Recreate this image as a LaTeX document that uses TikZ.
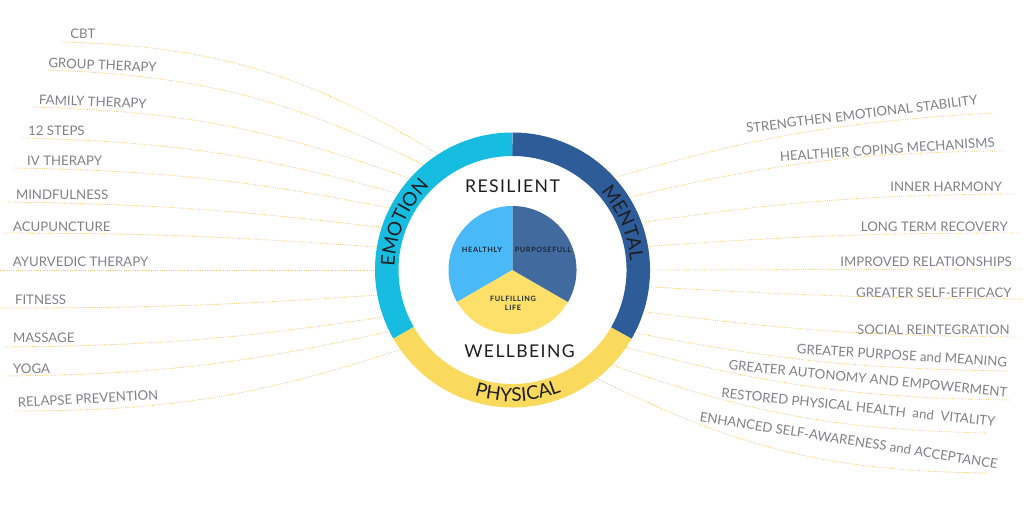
\documentclass[tikz,border=0pt]{standalone}
\usepackage{fontspec}
\setmainfont{Lato}
\usetikzlibrary{positioning,decorations.text}

\definecolor{emocol}{HTML}{17BDE0}
\definecolor{mentcol}{HTML}{2D5C98}
\definecolor{physcol}{HTML}{FADA5D}
\definecolor{piesky}{HTML}{4AB9F8}
\definecolor{pienavy}{HTML}{416B9E}
\definecolor{pieyel}{HTML}{FDE06A}
\definecolor{lblgray}{HTML}{818185}
\definecolor{linkyel}{HTML}{EFCB6C}
\definecolor{ink}{HTML}{1E1E22}
\definecolor{pieink}{HTML}{1B2738}

\newcommand\ringfont{\fontsize{13.5}{13.5}\selectfont}

\tikzset{
  lbl/.style={font=\fontsize{9.4}{11}\selectfont, text=lblgray, inner sep=0pt},
  link/.style={draw=linkyel, line width=0.6pt, densely dotted},
  ringband/.style={line width=0.5875cm},
  bigword/.style={font=\fontsize{12.5}{14}\selectfont\addfontfeatures{LetterSpace=8}, text=ink},
  pieword/.style={font=\fontsize{5.2}{6.4}\selectfont\bfseries\addfontfeatures{LetterSpace=8}, text=pieink, align=center}
}

\begin{document}
\begin{tikzpicture}[x=0.025cm, y=0.025cm]
\useasboundingbox (0,0) rectangle (1024,510);
\coordinate (c) at (512.5,240);

% outer ring
\draw[ringband, emocol] ([shift={(90:125.75)}]c) arc[start angle=90, end angle=210, radius=125.75];
\draw[ringband, physcol] ([shift={(210:125.75)}]c) arc[start angle=210, end angle=330, radius=125.75];
\draw[ringband, mentcol] ([shift={(330:125.75)}]c) arc[start angle=330, end angle=450, radius=125.75];

\path[decorate, decoration={text along path, text align=center, text color=ink, text={|\ringfont|EMOTION}}]
  ([shift={(205:118)}]c) arc[start angle=205, end angle=108, radius=118];
\path[decorate, decoration={text along path, text align=center, text color=ink, text={|\ringfont|MENTAL}}]
  ([shift={(71:118)}]c) arc[start angle=71, end angle=-25, radius=118];
\path[decorate, decoration={text along path, text align=center, text color=ink, text={|\ringfont|PHYSICAL}}]
  ([shift={(225:131.5)}]c) arc[start angle=225, end angle=320, radius=131.5];

% inner pie
\fill[piesky] (c) -- ([shift={(90:64)}]c) arc[start angle=90, end angle=210, radius=64] -- cycle;
\fill[pieyel] (c) -- ([shift={(210:64)}]c) arc[start angle=210, end angle=330, radius=64] -- cycle;
\fill[pienavy] (c) -- ([shift={(330:64)}]c) arc[start angle=330, end angle=450, radius=64] -- cycle;

\node[pieword] (healthly) at (482,260) {HEALTHLY};
\node[pieword] (purposeful) at (543,260) {PURPOSEFULL};
\node[pieword] (fulfilling) at (513,207) {FULFILLING\\LIFE};

\node[bigword] (resilient) at (512.5,324) {RESILIENT};
\node[bigword] (wellbeing) at (519.5,159) {WELLBEING};

% left side
\coordinate (cbtEnd) at (63,468);
\coordinate (groupEnd) at (48,440);
\coordinate (familyEnd) at (33,403);
\coordinate (stepsEnd) at (23,372);
\coordinate (ivEnd) at (15,342);
\coordinate (mindEnd) at (8,308);
\coordinate (acuEnd) at (3,277);
\coordinate (ayurEnd) at (0,240);
\coordinate (fitEnd) at (0,202);
\coordinate (massEnd) at (5,163);
\coordinate (yogaEnd) at (8,134);
\coordinate (relEnd) at (15,99);

\node[lbl, above right=2pt and 5pt of cbtEnd] (cbt) {CBT};
\node[lbl, above right=1.5pt and 0pt of groupEnd, rotate=-2.5] (group) {GROUP THERAPY};
\node[lbl, above right=1.5pt and 4pt of familyEnd, rotate=-2] (family) {FAMILY THERAPY};
\node[lbl, above right=1.5pt and 3.5pt of stepsEnd] (steps) {12 STEPS};
\node[lbl, above right=1.5pt and 8.5pt of ivEnd] (iv) {IV THERAPY};
\node[lbl, above right=1.5pt and 5.5pt of mindEnd] (mind) {MINDFULNESS};
\node[lbl, above right=1pt and 7pt of acuEnd] (acu) {ACUPUNCTURE};
\node[lbl, above right=2pt and 9pt of ayurEnd] (ayur) {AYURVEDIC THERAPY};
\node[lbl, above right=2.5pt and 10.5pt of fitEnd] (fit) {FITNESS};
\node[lbl, above right=3pt and 5.5pt of massEnd] (mass) {MASSAGE};
\node[lbl, above right=1.5pt and 3.5pt of yogaEnd] (yoga) {YOGA};
\node[lbl, above right=2.5pt and 2pt of relEnd, rotate=3] (rel) {RELAPSE PREVENTION};

\path (c) ++(122.8:137.5) coordinate (cbtRing);
\path (c) ++(130.2:137.5) coordinate (groupRing);
\path (c) ++(138.3:137.5) coordinate (familyRing);
\path (c) ++(146.3:137.5) coordinate (stepsRing);
\path (c) ++(153.2:137.5) coordinate (ivRing);
\path (c) ++(162:137.5) coordinate (mindRing);
\path (c) ++(170.4:137.5) coordinate (acuRing);
\path (c) ++(180:137.5) coordinate (ayurRing);
\path (c) ++(190.5:137.5) coordinate (fitRing);
\path (c) ++(200:137.5) coordinate (massRing);
\path (c) ++(206.5:137.5) coordinate (yogaRing);
\path (c) ++(215.4:137.5) coordinate (relRing);

\draw[link] (cbtEnd) to[bend left=15] (cbtRing);
\draw[link] (groupEnd) to[bend left=12] (groupRing);
\draw[link] (familyEnd) to[bend left=9] (familyRing);
\draw[link] (stepsEnd) to[bend left=7] (stepsRing);
\draw[link] (ivEnd) to[bend left=5] (ivRing);
\draw[link] (mindEnd) to[bend left=3] (mindRing);
\draw[link] (acuEnd) to[bend left=2] (acuRing);
\draw[link] (ayurEnd) -- (ayurRing);
\draw[link] (fitEnd) to[bend right=2] (fitRing);
\draw[link] (massEnd) to[bend right=4] (massRing);
\draw[link] (yogaEnd) to[bend right=6] (yogaRing);
\draw[link] (relEnd) to[bend right=9] (relRing);

% right side
\coordinate (strEnd) at (993,397);
\coordinate (healEnd) at (1005,359);
\coordinate (innerEnd) at (1015,316);
\coordinate (longEnd) at (1020,277);
\coordinate (imprEnd) at (1024,241);
\coordinate (effEnd) at (1023,211);
\coordinate (socEnd) at (1017,173);
\coordinate (purpEnd) at (1008,139);
\coordinate (autoEnd) at (1012,110);
\coordinate (restEnd) at (988,77);
\coordinate (enhEnd) at (988,37);

\node[lbl, above left=5.7pt and 10.6pt of strEnd, rotate=7] (str) {STRENGTHEN EMOTIONAL STABILITY};
\node[lbl, above left=2.8pt and 7pt of healEnd, rotate=4] (heal) {HEALTHIER COPING MECHANISMS};
\node[lbl, above left=1.5pt and 9pt of innerEnd] (inner) {INNER HARMONY};
\node[lbl, above left=1pt and 8.5pt of longEnd] (long) {LONG TERM RECOVERY};
\node[lbl, above left=1.5pt and 8.5pt of imprEnd] (impr) {IMPROVED RELATIONSHIPS};
\node[lbl, above left=1pt and 8pt of effEnd] (eff) {GREATER SELF-EFFICACY};
\node[lbl, above left=1.5pt and 5pt of socEnd] (soc) {SOCIAL REINTEGRATION};
\node[lbl, above left=2.8pt and 0.7pt of purpEnd, rotate=-3.5] (purp) {GREATER PURPOSE and MEANING};
\node[lbl, above left=2pt and 3.5pt of autoEnd, rotate=-5.5] (auto) {GREATER AUTONOMY AND EMPOWERMENT};
\node[lbl, above left=4.3pt and 0pt of restEnd, xshift=5pt, rotate=-6] (rest) {RESTORED PHYSICAL HEALTH\ \ and\ \ VITALITY};
\node[lbl, above left=2.8pt and 0pt of enhEnd, xshift=6.4pt, rotate=-9] (enh) {ENHANCED SELF-AWARENESS and ACCEPTANCE};

\path (c) ++(42.2:137.5) coordinate (strRing);
\path (c) ++(31.9:137.5) coordinate (healRing);
\path (c) ++(20.2:137.5) coordinate (innerRing);
\path (c) ++(9.9:137.5) coordinate (longRing);
\path (c) ++(0:137.5) coordinate (imprRing);
\path (c) ++(-7:137.5) coordinate (effRing);
\path (c) ++(-17.6:137.5) coordinate (socRing);
\path (c) ++(-27.2:137.5) coordinate (purpRing);
\path (c) ++(-34.3:137.5) coordinate (autoRing);
\path (c) ++(-43.7:137.5) coordinate (restRing);
\path (c) ++(-52:137.5) coordinate (enhRing);

\draw[link] (strRing) to[bend left=6.5] (strEnd);
\draw[link] (healRing) to[bend left=6.5] (healEnd);
\draw[link] (innerRing) to[bend left=4] (innerEnd);
\draw[link] (longRing) to[bend left=2] (longEnd);
\draw[link] (imprRing) -- (imprEnd);
\draw[link] (effRing) to[bend right=1.5] (effEnd);
\draw[link] (socRing) to[bend right=3.5] (socEnd);
\draw[link] (purpRing) to[bend right=5] (purpEnd);
\draw[link] (autoRing) to[bend right=7] (autoEnd);
\draw[link] (restRing) to[bend right=9] (restEnd);
\draw[link] (enhRing) to[bend right=13] (enhEnd);
\end{tikzpicture}
\end{document}
